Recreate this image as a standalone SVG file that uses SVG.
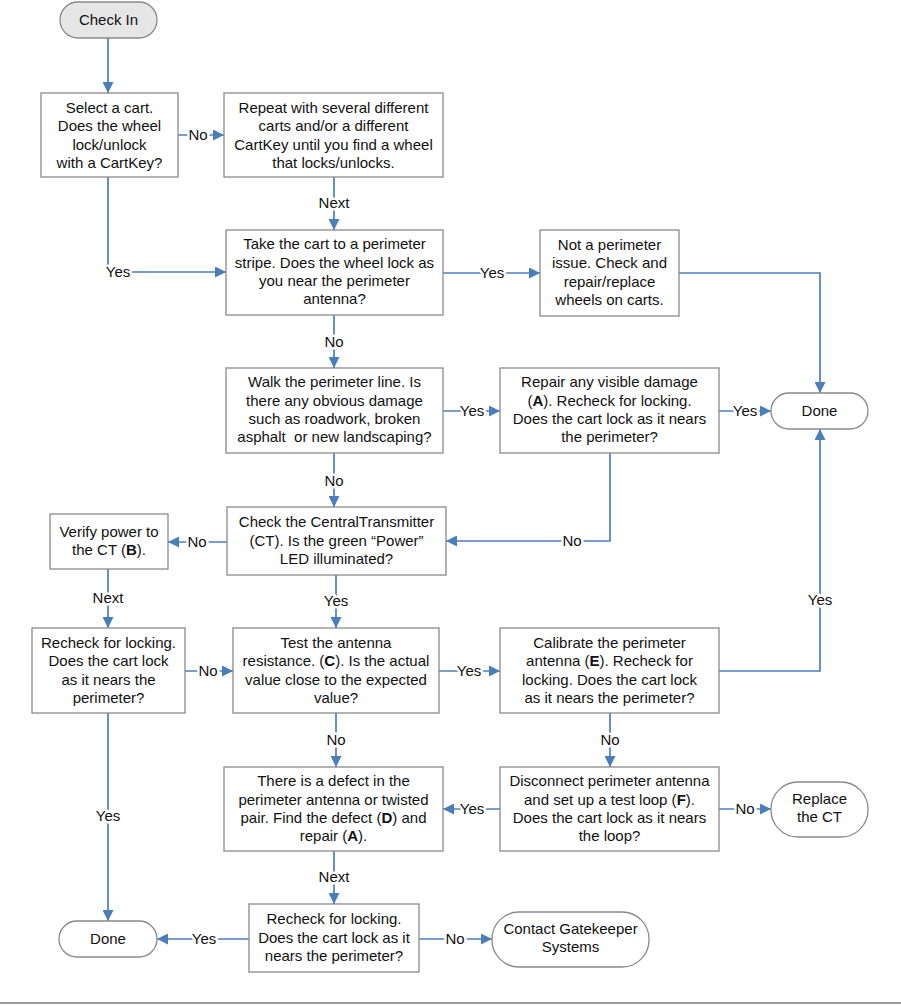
<svg xmlns="http://www.w3.org/2000/svg" width="901" height="1006" viewBox="0 0 901 1006">
<style>
.box{fill:#fff;stroke:#8a8a8a;stroke-width:1.3}
.term{fill:#fff;stroke:#8a8a8a;stroke-width:1.3}
.start{fill:#e6e6e6;stroke:#8a8a8a;stroke-width:1.3}
text{font-family:"Liberation Sans",Arial,sans-serif;font-size:15px;fill:#111;text-anchor:middle}
.c{fill:none;stroke:#4a7ebb;stroke-width:1.7}
.lbl{stroke:#fff;stroke-width:5;paint-order:stroke;stroke-linejoin:round}
.b{font-weight:bold}
</style>
<defs>
<marker id="ah" markerUnits="userSpaceOnUse" markerWidth="11" markerHeight="11" refX="10" refY="5" orient="auto" viewBox="0 0 10 10">
<path d="M0,0 L10,5 L0,10 z" fill="#4a7ebb"/>
</marker>
</defs>
<rect width="901" height="1006" fill="#fff"/>
<g id="connectors">
<path class="c" marker-end="url(#ah)" d="M108,38 V93"/>
<path class="c" marker-end="url(#ah)" d="M178,135 H224"/>
<path class="c" marker-end="url(#ah)" d="M334,177 V230"/>
<path class="c" marker-end="url(#ah)" d="M108,177 V272 H226"/>
<path class="c" marker-end="url(#ah)" d="M443,273 H540"/>
<path class="c" marker-end="url(#ah)" d="M679,273 H820 V393"/>
<path class="c" marker-end="url(#ah)" d="M334,315 V368"/>
<path class="c" marker-end="url(#ah)" d="M443,411 H500"/>
<path class="c" marker-end="url(#ah)" d="M719,411 H771"/>
<path class="c" marker-end="url(#ah)" d="M334,453 V507"/>
<path class="c" marker-end="url(#ah)" d="M610,453 V541 H446"/>
<path class="c" marker-end="url(#ah)" d="M227,542 H168"/>
<path class="c" marker-end="url(#ah)" d="M108,569 V628"/>
<path class="c" marker-end="url(#ah)" d="M336,575 V628"/>
<path class="c" marker-end="url(#ah)" d="M185,671 H233"/>
<path class="c" marker-end="url(#ah)" d="M439,671 H500"/>
<path class="c" marker-end="url(#ah)" d="M719,671 H820 V429"/>
<path class="c" marker-end="url(#ah)" d="M108,713 V921"/>
<path class="c" marker-end="url(#ah)" d="M336,713 V767"/>
<path class="c" marker-end="url(#ah)" d="M610,713 V767"/>
<path class="c" marker-end="url(#ah)" d="M500,809 H443"/>
<path class="c" marker-end="url(#ah)" d="M719,809 H771"/>
<path class="c" marker-end="url(#ah)" d="M334,851 V904"/>
<path class="c" marker-end="url(#ah)" d="M249,939 H157"/>
<path class="c" marker-end="url(#ah)" d="M419,939 H492"/>
<text class="lbl" x="198" y="140">No</text>
<text class="lbl" x="334" y="208">Next</text>
<text class="lbl" x="118" y="277">Yes</text>
<text class="lbl" x="492" y="278">Yes</text>
<text class="lbl" x="334" y="347">No</text>
<text class="lbl" x="472" y="416">Yes</text>
<text class="lbl" x="745" y="416">Yes</text>
<text class="lbl" x="334" y="486">No</text>
<text class="lbl" x="572" y="546">No</text>
<text class="lbl" x="197" y="547">No</text>
<text class="lbl" x="108" y="603">Next</text>
<text class="lbl" x="336" y="606">Yes</text>
<text class="lbl" x="208" y="676">No</text>
<text class="lbl" x="469" y="676">Yes</text>
<text class="lbl" x="820" y="605">Yes</text>
<text class="lbl" x="108" y="821">Yes</text>
<text class="lbl" x="336" y="745">No</text>
<text class="lbl" x="610" y="745">No</text>
<text class="lbl" x="472" y="814">Yes</text>
<text class="lbl" x="745" y="814">No</text>
<text class="lbl" x="334" y="882">Next</text>
<text class="lbl" x="204" y="944">Yes</text>
<text class="lbl" x="455" y="944">No</text>
</g>
<g id="checkin"><rect class="start" x="60" y="2" width="97" height="36" rx="18"/><text x="108.5" y="25">Check In</text></g>
<g id="select"><rect class="box" x="41" y="93" width="137" height="84"/>
<text x="109.5" y="113">Select a cart.</text><text x="109.5" y="131">Does the wheel</text><text x="109.5" y="149.5">lock/unlock</text><text x="109.5" y="168">with a CartKey?</text></g>
<g id="repeat"><rect class="box" x="224" y="93" width="219" height="84"/>
<text x="333.5" y="113">Repeat with several different</text><text x="333.5" y="131">carts and/or a different</text><text x="333.5" y="149.5">CartKey until you find a wheel</text><text x="333.5" y="168">that locks/unlocks.</text></g>
<g id="take"><rect class="box" x="226" y="230" width="217" height="85"/>
<text x="334.5" y="249">Take the cart to a perimeter</text><text x="334.5" y="267.5">stripe. Does the wheel lock as</text><text x="334.5" y="286">you near the perimeter</text><text x="334.5" y="304">antenna?</text></g>
<g id="notperim"><rect class="box" x="540" y="230" width="139" height="86"/>
<text x="609.5" y="250">Not a perimeter</text><text x="609.5" y="268">issue. Check and</text><text x="609.5" y="286.5">repair/replace</text><text x="609.5" y="305">wheels on carts.</text></g>
<g id="walk"><rect class="box" x="226" y="368" width="217" height="85"/>
<text x="334.5" y="387">Walk the perimeter line. Is</text><text x="334.5" y="405.5">there any obvious damage</text><text x="334.5" y="424">such as roadwork, broken</text><text x="334.5" y="442" xml:space="preserve">asphalt  or new landscaping?</text></g>
<g id="repair"><rect class="box" x="500" y="368" width="219" height="85"/>
<text x="609.5" y="387">Repair any visible damage</text><text x="609.5" y="405.5">(<tspan class="b">A</tspan>). Recheck for locking.</text><text x="609.5" y="424">Does the cart lock as it nears</text><text x="609.5" y="442">the perimeter?</text></g>
<g id="done1"><rect class="term" x="771" y="393" width="97" height="36" rx="18"/><text x="819.5" y="416">Done</text></g>
<g id="checkct"><rect class="box" x="227" y="507" width="219" height="68"/>
<text x="336.5" y="527">Check the CentralTransmitter</text><text x="336.5" y="545.5">(CT). Is the green “Power”</text><text x="336.5" y="564">LED illuminated?</text></g>
<g id="verify"><rect class="box" x="50" y="514" width="118" height="55"/>
<text x="109" y="537">Verify power to</text><text x="109" y="555">the CT (<tspan class="b">B</tspan>).</text></g>
<g id="recheck1"><rect class="box" x="32" y="628" width="153" height="85"/>
<text x="108.5" y="648">Recheck for locking.</text><text x="108.5" y="666">Does the cart lock</text><text x="108.5" y="684.5">as it nears the</text><text x="108.5" y="703">perimeter?</text></g>
<g id="test"><rect class="box" x="233" y="628" width="206" height="85"/>
<text x="336" y="648">Test the antenna</text><text x="336" y="666">resistance. (<tspan class="b">C</tspan>). Is the actual</text><text x="336" y="684.5">value close to the expected</text><text x="336" y="703">value?</text></g>
<g id="calibrate"><rect class="box" x="500" y="628" width="219" height="85"/>
<text x="609.5" y="648">Calibrate the perimeter</text><text x="609.5" y="666">antenna (<tspan class="b">E</tspan>). Recheck for</text><text x="609.5" y="684.5">locking. Does the cart lock</text><text x="609.5" y="703">as it nears the perimeter?</text></g>
<g id="defect"><rect class="box" x="224" y="767" width="219" height="84"/>
<text x="333.5" y="786">There is a defect in the</text><text x="333.5" y="804.5">perimeter antenna or twisted</text><text x="333.5" y="823">pair. Find the defect (<tspan class="b">D</tspan>) and</text><text x="333.5" y="841">repair (<tspan class="b">A</tspan>).</text></g>
<g id="disconnect"><rect class="box" x="500" y="767" width="219" height="84"/>
<text x="609.5" y="786">Disconnect perimeter antenna</text><text x="609.5" y="804.5">and set up a test loop (<tspan class="b">F</tspan>).</text><text x="609.5" y="823">Does the cart lock as it nears</text><text x="609.5" y="841">the loop?</text></g>
<g id="replace"><rect class="term" x="771" y="782" width="97" height="55" rx="27"/>
<text x="819.5" y="804">Replace</text><text x="819.5" y="822">the CT</text></g>
<g id="recheck2"><rect class="box" x="249" y="904" width="170" height="68"/>
<text x="334" y="924">Recheck for locking.</text><text x="334" y="943">Does the cart lock as it</text><text x="334" y="961">nears the perimeter?</text></g>
<g id="done2"><rect class="term" x="59" y="921" width="98" height="36" rx="18"/><text x="108" y="944">Done</text></g>
<g id="contact"><rect class="term" x="492" y="912" width="157" height="55" rx="27"/>
<text x="570.5" y="934">Contact Gatekeeper</text><text x="570.5" y="952">Systems</text></g>
<line x1="0" y1="1003" x2="901" y2="1003" stroke="#9a9a9a" stroke-width="2"/>
</svg>
